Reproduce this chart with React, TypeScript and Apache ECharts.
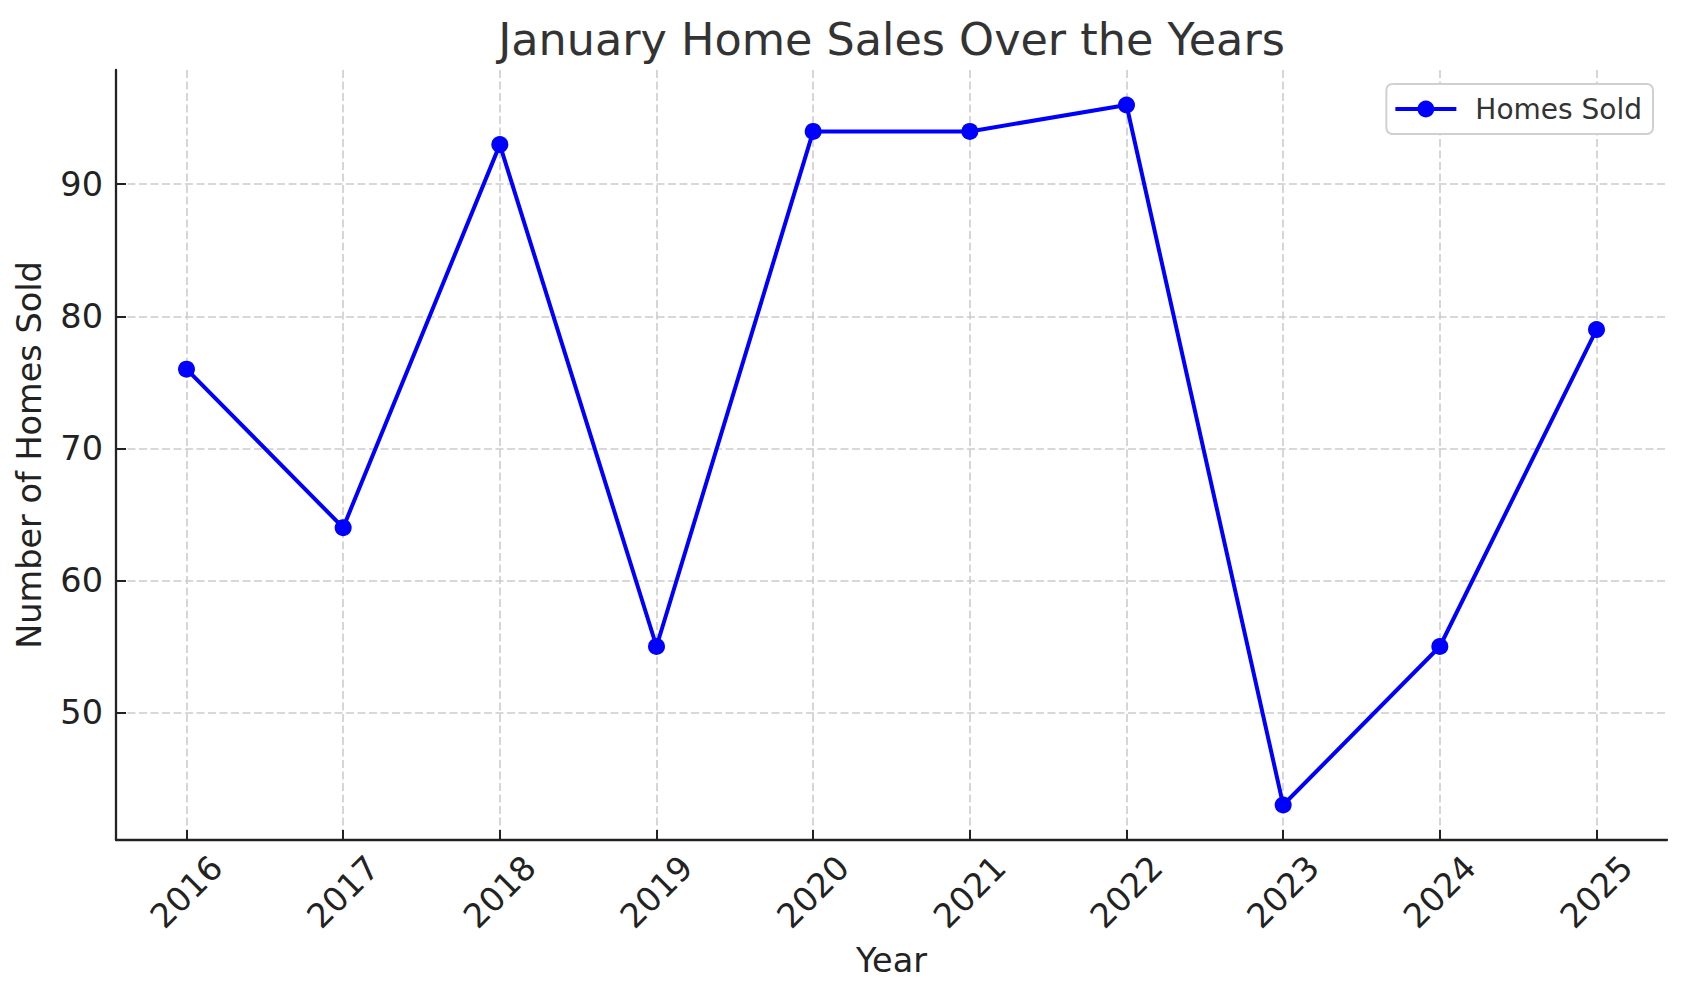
import React, { useEffect, useRef } from "react";
import * as echarts from "echarts";

const years = [2016, 2017, 2018, 2019, 2020, 2021, 2022, 2023, 2024, 2025];
const homesSold = [76, 64, 93, 55, 94, 94, 96, 43, 55, 79];
const yTicks = [50, 60, 70, 80, 90];
const seriesName = "Homes Sold";
const titleText = "January Home Sales Over the Years";
const xName = "Year";
const yName = "Number of Homes Sold";

const FONT = "'DejaVu Sans', sans-serif";
const GRID_LEFT = 116;
const GRID_RIGHT = 19;

export default function App() {
  const ref = useRef<HTMLDivElement>(null);
  useEffect(() => {
    if (!ref.current) return;
    const chart = echarts.init(ref.current, null, { renderer: "svg" });
    const yMinData = Math.min(...homesSold);
    const yMaxData = Math.max(...homesSold);
    const yPad = (yMaxData - yMinData) * 0.05;
    const xPad = (years[years.length - 1] - years[0]) * 0.05;
    const W = 1686;
    chart.setOption({
      animation: false,
      backgroundColor: "#ffffff",
      title: {
        text: titleText,
        left: GRID_LEFT + (W - GRID_LEFT - GRID_RIGHT) / 2,
        textAlign: "center",
        top: 17,
        padding: 0,
        textStyle: { fontFamily: FONT, fontSize: 44.5, fontWeight: "normal", color: "#333333" },
      },
      legend: {
        data: [{ name: seriesName }],
        right: 33,
        top: 84,
        padding: [11, 11, 11, 7],
        itemWidth: 61,
        itemHeight: 21,
        borderColor: "#d0d0d0",
        borderWidth: 2,
        borderRadius: 6,
        backgroundColor: "#ffffff",
        lineStyle: { width: 4 },
        textStyle: { fontFamily: FONT, fontSize: 28, color: "#333333", padding: [0, 0, 0, 14] },
      },
      grid: { left: GRID_LEFT, right: GRID_RIGHT, top: 70, bottom: 158, containLabel: false },
      xAxis: {
        type: "value",
        min: years[0] - xPad,
        max: years[years.length - 1] + xPad,
        name: xName,
        nameLocation: "middle",
        nameGap: 103,
        nameTextStyle: { fontFamily: FONT, fontSize: 33.5, color: "#222222" },
        axisLine: { show: true, onZero: false, lineStyle: { color: "#222222", width: 2.3 } },
        axisTick: { show: true, inside: true, length: 10, customValues: years, lineStyle: { color: "#222222", width: 2 } },
        axisLabel: {
          customValues: years,
          rotate: 45,
          align: "center",
          verticalAlign: "middle",
          margin: 52,
          fontFamily: FONT,
          fontSize: 33.5,
          color: "#222222",
          formatter: (v: number) => String(v),
        },
        splitLine: { show: true, lineStyle: { color: "#cccccc", type: [8, 3.5], width: 1.6 } },
      },
      yAxis: {
        type: "value",
        min: yMinData - yPad,
        max: yMaxData + yPad,
        name: yName,
        nameLocation: "middle",
        nameGap: 70,
        nameRotate: 90,
        nameTextStyle: { fontFamily: FONT, fontSize: 33.5, color: "#222222" },
        axisLine: { show: true, lineStyle: { color: "#222222", width: 2.3 } },
        axisTick: { show: true, inside: true, length: 10, customValues: yTicks, lineStyle: { color: "#222222", width: 2 } },
        axisLabel: {
          customValues: yTicks,
          margin: 13,
          fontFamily: FONT,
          fontSize: 33.5,
          color: "#222222",
        },
        splitLine: { show: true, lineStyle: { color: "#cccccc", type: [8, 3.5], width: 1.6 } },
      },
      series: [
        {
          name: seriesName,
          type: "line",
          data: years.map((y, i) => [y, homesSold[i]]),
          symbol: "circle",
          symbolSize: 17,
          showSymbol: true,
          lineStyle: { color: "#0000ff", width: 4 },
          itemStyle: { color: "#0000ff" },
        },
      ],
    });
    return () => chart.dispose();
  }, []);
  return (
    <div
      ref={ref}
      style={{ position: "fixed", left: 0, top: 0, width: 1686, height: 998 }}
    />
  );
}
